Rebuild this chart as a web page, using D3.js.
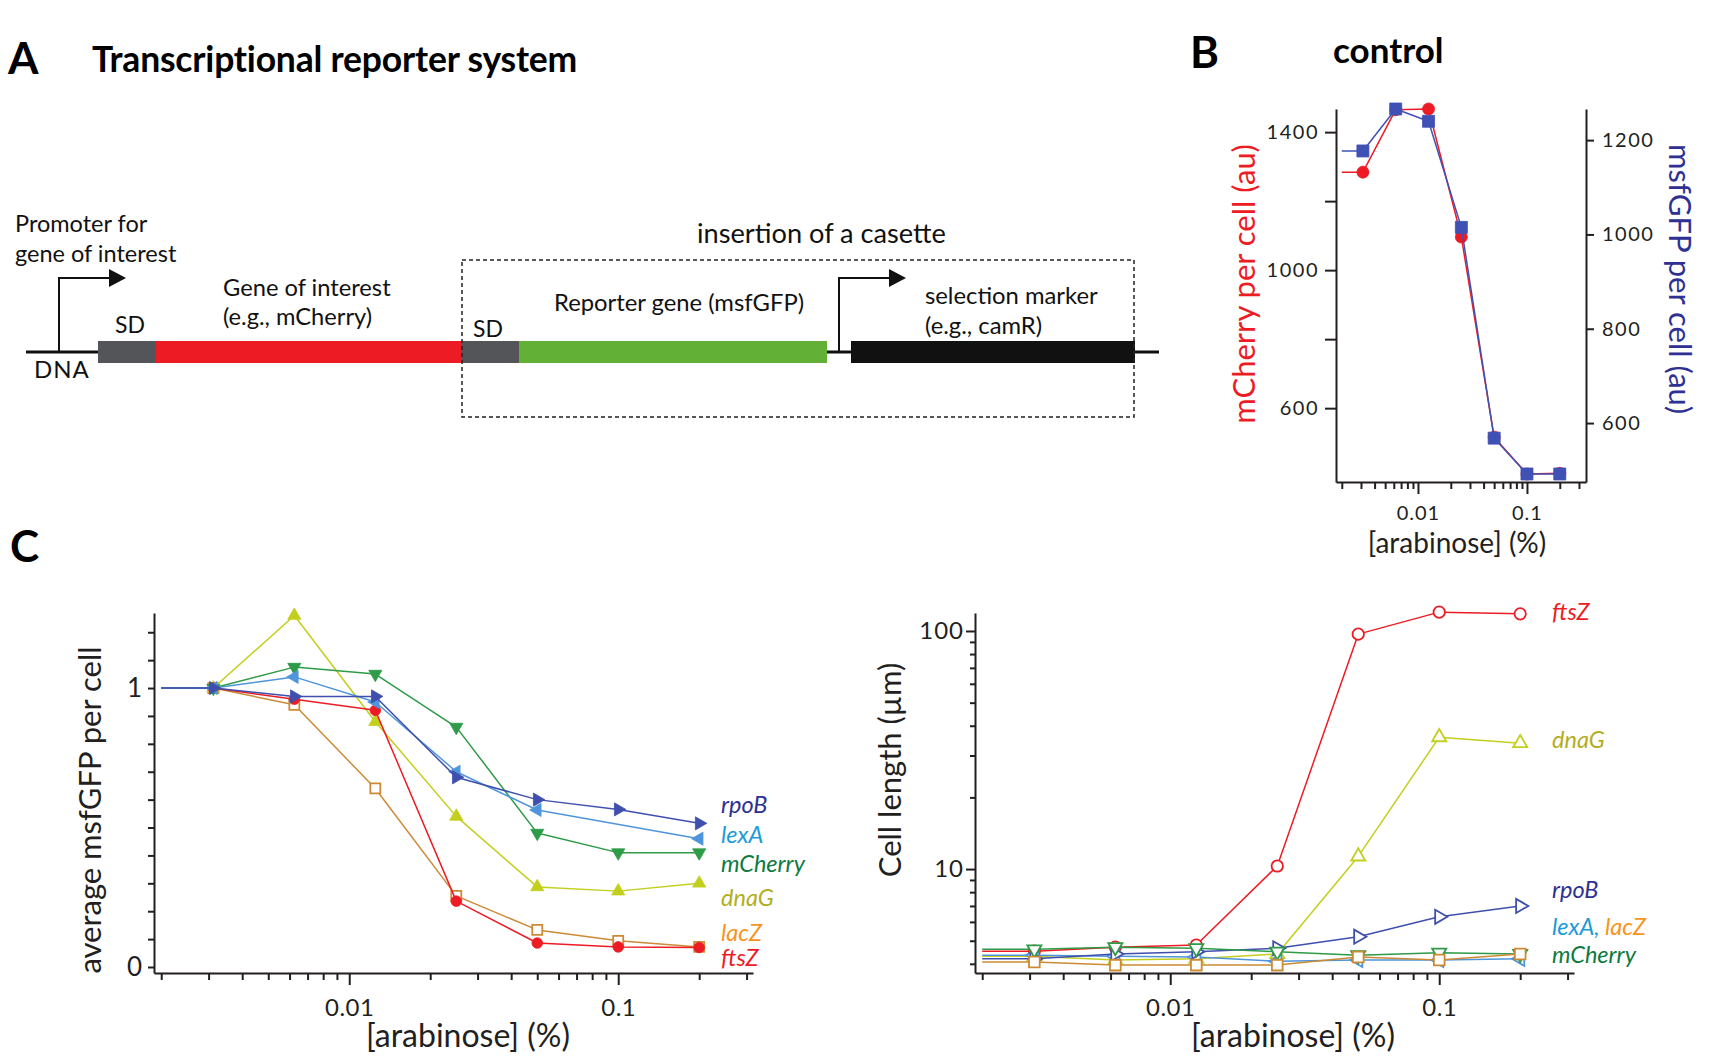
<!DOCTYPE html>
<html>
<head>
<meta charset="utf-8">
<script src="https://cdn.jsdelivr.net/npm/d3@7"></script>
<style>
  body { margin: 0; background: #fff; }
  text { font-family: Lato, "Open Sans", sans-serif; }
</style>
</head>
<body>
<svg id="fig" width="1718" height="1063"></svg>
<script>
// ---- data ----
// arabinose (%) ; 0 = no inducer, drawn at the left edge of the log axis
const conc = [0, 0.003125, 0.00625, 0.0125, 0.025, 0.05, 0.1, 0.2];
const zeroAt = 0.002;

// B, control strain (au)
const ctrlMCherry = [1284, 1284, 1465, 1467, 1096, 516, 409, 411];
const ctrlMsfGFP  = [1177, 1177, 1266, 1240, 1015, 568, 492, 492];

// C left: average msfGFP per cell, normalised to no arabinose
const gfpRpoB    = [1, 1, 0.97, 0.97, 0.68, 0.60, 0.565, 0.515];
const gfpLexA    = [1, 1, 1.04, 0.95, 0.70, 0.563, null, 0.46];
const gfpMCherry = [1, 1, 1.075, 1.05, 0.86, 0.48, 0.41, 0.41];
const gfpDnaG    = [1, 1, 1.26, 0.879, 0.54, 0.287, 0.272, 0.30];
const gfpLacZ    = [1, 1, 0.94, 0.64, 0.255, 0.133, 0.094, 0.072];
const gfpFtsZ    = [1, 1, 0.96, 0.92, 0.236, 0.086, 0.072, 0.07];

// C right: cell length (um)
const lenFtsZ    = [4.52, 4.52, 4.7, 4.8, 10.3, 97, 120, 118];
const lenDnaG    = [4.3, 4.3, 4.15, 4.2, 4.4, 11.3, 35.8, 33.8];
const lenRpoB    = [4.2, 4.2, 4.4, 4.5, 4.65, 5.2, 6.3, 7.0];
const lenMCherry = [4.6, 4.6, 4.7, 4.65, 4.5, 4.35, 4.45, 4.4];
const lenLexA    = [4.35, 4.35, 4.3, 4.27, 4.1, 4.15, 4.15, 4.2];
const lenLacZ    = [4.07, 4.07, 3.95, 3.95, 3.95, 4.27, 4.15, 4.4];

const xMajor = [0.01, 0.1];

const ink = "#231f20";
const svg = d3.select("#fig");
svg.append("rect").attr("width", 1718).attr("height", 1063).attr("fill", "#fff");

// colours / markers per gene
const look = {
  rpoB:    {line: "#3f4fad", label: "#2e3192", rot: 90},
  lexA:    {line: "#4f95dc", label: "#1d9bd7", rot: -90},
  mCherry: {line: "#2d9b47", label: "#0d7a3e", rot: 180},
  dnaG:    {line: "#c2cf1c", label: "#b3ae1f", rot: 0},
  lacZ:    {line: "#cd8a35", label: "#f7941d", sq: true},
  ftsZ:    {line: "#ed1c24", label: "#ed1c24", circ: true}
};

function markerPath(k, scale) {
  const l = look[k];
  if (l.circ) return d3.symbol(d3.symbolCircle, Math.PI * 5.3 * 5.3 * scale)();
  if (l.sq) return d3.symbol(d3.symbolSquare, 10 * 10 * scale)();
  return d3.symbol(d3.symbolTriangle, 75 * scale)();
}

function drawSeries(g, x, y, vals, color, o) {
  const pts = conc.map((c, i) => ({c: c === 0 ? zeroAt : c, v: vals[i], zero: c === 0}))
                  .filter(p => p.v != null);
  g.append("path").datum(pts)
    .attr("d", d3.line().x(p => x(p.c)).y(p => y(p.v)))
    .attr("fill", "none").attr("stroke", color).attr("stroke-width", 1.5)
    .attr("stroke-linejoin", "round");
  g.selectAll(null).data(pts.filter(p => !p.zero)).join("path")
    .attr("transform", p => `translate(${x(p.c)},${y(p.v)}) rotate(${o.rot || 0})`)
    .attr("d", o.d)
    .attr("fill", o.open ? "#fff" : color)
    .attr("stroke", color).attr("stroke-width", o.open ? 1.8 : 0.8);
}

function minorLogTicks(dom) {
  const t = [];
  for (let e = -3; e <= 2; e++)
    for (let m = 1; m <= 9; m++) {
      const v = +(m * Math.pow(10, e)).toPrecision(3);
      if (v >= dom[0] && v <= dom[1]) t.push(v);
    }
  return t;
}

function styleAxis(ax, size) {
  ax.attr("font-family", null).attr("font-size", size).attr("color", ink);
  ax.selectAll("path, line").attr("stroke-width", 2);
}

function logXAxis(x, y0, o) {
  const g = svg.append("g").attr("transform", `translate(0,${y0})`);
  const minor = minorLogTicks(x.domain()).filter(v => !xMajor.includes(v));
  g.call(d3.axisBottom(x).tickValues(minor).tickSize(o.minor).tickSizeOuter(0).tickFormat(""));
  const gm = g.append("g").call(d3.axisBottom(x).tickValues(xMajor).tickSize(o.major)
    .tickPadding(o.pad).tickFormat(d3.format("")));
  gm.select(".domain").remove();
  styleAxis(g, o.font);
  styleAxis(gm, o.font);
  g.selectAll("text").attr("letter-spacing", o.ls || 0);
  return g;
}

// ================= A: schematic =================
svg.append("text").attr("x", 8).attr("y", 74).attr("font-size", 44).attr("font-weight", 700).text("A");
svg.append("text").attr("x", 92).attr("y", 72).attr("font-size", 35.5).attr("font-weight", 700)
  .attr("letter-spacing", -0.2).text("Transcriptional reporter system");

const dnaY = 352, barH = 22;
const parts = [
  {x0: 98,  x1: 156, fill: "#545558"},
  {x0: 156, x1: 462, fill: "#ed1c24"},
  {x0: 462, x1: 519, fill: "#545558"},
  {x0: 519, x1: 827, fill: "#62b036"},
  {x0: 851, x1: 1135, fill: "#111111"}
];
const dia = svg.append("g");
dia.append("line").attr("x1", 26).attr("x2", 1159).attr("y1", dnaY).attr("y2", dnaY)
  .attr("stroke", "#111").attr("stroke-width", 3);
dia.selectAll("rect.part").data(parts).join("rect").attr("class", "part")
  .attr("x", d => d.x0).attr("width", d => d.x1 - d.x0)
  .attr("y", dnaY - barH / 2).attr("height", barH).attr("fill", d => d.fill);

// insertion box
dia.append("rect").attr("x", 462).attr("y", 260).attr("width", 1134 - 462).attr("height", 417 - 260)
  .attr("fill", "none").attr("stroke", "#222").attr("stroke-width", 1.5).attr("stroke-dasharray", "4,3");

// promoter arrows
[59, 839].forEach(px => {
  dia.append("path").attr("d", `M${px},${dnaY} V278 H${px + 52}`)
    .attr("fill", "none").attr("stroke", "#111").attr("stroke-width", 2);
  dia.append("path").attr("d", `M${px + 50},269 L${px + 67},278 L${px + 50},287 Z`).attr("fill", "#111");
});

const diaText = [
  ["Promoter for", 15, 232, 23.5, 0], ["gene of interest", 15, 262, 23.5, 0],
  ["DNA", 34, 378, 24, 1], ["SD", 115, 333, 23, 0], ["SD", 473, 337, 23, 0],
  ["Gene of interest", 223, 296, 23.7, 0], ["(e.g., mCherry)", 223, 325, 23.7, 0],
  ["insertion of a casette", 697, 243, 27.2, 0],
  ["Reporter gene (msfGFP)", 554, 311, 23.8, 0],
  ["selection marker", 925, 304, 23.8, 0], ["(e.g., camR)", 925, 334, 23.8, 0]
];
dia.selectAll("text").data(diaText).join("text")
  .attr("x", d => d[1]).attr("y", d => d[2]).attr("font-size", d => d[3])
  .attr("letter-spacing", d => d[4]).attr("fill", "#111").text(d => d[0]);

// ================= B: control =================
svg.append("text").attr("x", 1190).attr("y", 68).attr("font-size", 44).attr("font-weight", 700).text("B");
svg.append("text").attr("x", 1333).attr("y", 63).attr("font-size", 35).attr("font-weight", 700).text("control");

const xB = d3.scaleLog().domain([0.00177, 0.348]).range([1336, 1586]);
const yBL = d3.scaleLinear().domain([386, 1467]).range([482, 109]);
const yBR = d3.scaleLinear().domain([475, 1266]).range([482, 109]);

logXAxis(xB, 482, {minor: 7, major: 12, pad: 12, font: 20, ls: 1});
const bl = svg.append("g").attr("transform", "translate(1336,0)")
  .call(d3.axisLeft(yBL).tickValues([600, 800, 1000, 1200, 1400]).tickSize(11).tickSizeOuter(0).tickPadding(6)
    .tickFormat(d => (d === 800 || d === 1200) ? "" : d));
styleAxis(bl, 20);
bl.selectAll("text").attr("letter-spacing", 1.5);
const br = svg.append("g").attr("transform", "translate(1586,0)")
  .call(d3.axisRight(yBR).tickValues([600, 800, 1000, 1200]).tickSize(8).tickSizeOuter(0).tickPadding(8)
    .tickFormat(d3.format("")));
styleAxis(br, 20);
br.selectAll("text").attr("letter-spacing", 1.5);

const gB = svg.append("g");
drawSeries(gB, xB, yBL, ctrlMCherry, "#ed1c24", {d: d3.symbol(d3.symbolCircle, Math.PI * 36)()});
drawSeries(gB, xB, yBR, ctrlMsfGFP, "#3f51b5", {d: d3.symbol(d3.symbolSquare, 144)()});

svg.append("text").attr("transform", "translate(1255,284) rotate(-90)").attr("text-anchor", "middle")
  .attr("font-size", 31).attr("fill", "#ed1c24").text("mCherry per cell (au)");
svg.append("text").attr("transform", "translate(1669,279) rotate(90)").attr("text-anchor", "middle")
  .attr("font-size", 31).attr("fill", "#2e3192").text("msfGFP per cell (au)");
svg.append("text").attr("x", 1457).attr("y", 553).attr("text-anchor", "middle")
  .attr("font-size", 28).attr("fill", ink).text("[arabinose] (%)");

// ================= C =================
svg.append("text").attr("x", 10).attr("y", 562).attr("font-size", 44).attr("font-weight", 700).text("C");

// left: msfGFP
const xCL = d3.scaleLog().domain([0.00188, 0.317]).range([154, 753]);
const yCL = d3.scaleLinear().domain([-0.0215, 1.269]).range([973, 613]);
logXAxis(xCL, 973, {minor: 7, major: 12, pad: 14, font: 24, ls: 0.5});
const cl = svg.append("g").attr("transform", "translate(154,0)")
  .call(d3.axisLeft(yCL).tickValues(d3.range(0, 13).map(i => i / 10)).tickSize(6).tickSizeOuter(0)
    .tickPadding(6).tickFormat(d => (d === 0 || d === 1) ? d : ""));
styleAxis(cl, 26);

const gfpSeries = [
  ["lacZ", gfpLacZ], ["dnaG", gfpDnaG], ["ftsZ", gfpFtsZ],
  ["mCherry", gfpMCherry], ["lexA", gfpLexA], ["rpoB", gfpRpoB]
];
const gCL = svg.append("g");
gfpSeries.forEach(([k, v]) => drawSeries(gCL, xCL, yCL, v, look[k].line,
  {d: markerPath(k, 1), rot: look[k].rot, open: !!look[k].sq}));

const leftLabels = [["rpoB", 813], ["lexA", 843], ["mCherry", 872], ["dnaG", 906], ["lacZ", 941], ["ftsZ", 966]];
svg.selectAll("text.lbl").data(leftLabels).join("text").attr("class", "lbl")
  .attr("x", 721).attr("y", d => d[1]).attr("font-size", 23.5).attr("font-style", "italic")
  .attr("fill", d => look[d[0]].label).text(d => d[0]);

svg.append("text").attr("transform", "translate(101,810) rotate(-90)").attr("text-anchor", "middle")
  .attr("font-size", 31).attr("fill", ink).text("average msfGFP per cell");
svg.append("text").attr("x", 468).attr("y", 1047).attr("text-anchor", "middle")
  .attr("font-size", 32).attr("fill", ink).text("[arabinose] (%)");

// right: cell length
const xCR = d3.scaleLog().domain([0.00188, 0.317]).range([975, 1574]);
const yCR = d3.scaleLog().domain([3.66, 119]).range([973, 613]);
logXAxis(xCR, 973, {minor: 7, major: 12, pad: 14, font: 24, ls: 0.5});
const yMinorCR = minorLogTicks(yCR.domain()).filter(v => v !== 10 && v !== 100);
const cr = svg.append("g").attr("transform", "translate(975,0)");
cr.call(d3.axisLeft(yCR).tickValues(yMinorCR).tickSize(5).tickSizeOuter(0).tickFormat(""));
const crm = cr.append("g").call(d3.axisLeft(yCR).tickValues([10, 100]).tickSize(9).tickPadding(2)
  .tickFormat(d3.format("")));
crm.select(".domain").remove();
styleAxis(cr, 24); styleAxis(crm, 24);
crm.selectAll("text").attr("letter-spacing", 1);

const lenSeries = [
  ["ftsZ", lenFtsZ], ["dnaG", lenDnaG], ["lexA", lenLexA],
  ["rpoB", lenRpoB], ["mCherry", lenMCherry], ["lacZ", lenLacZ]
];
const gCR = svg.append("g");
lenSeries.forEach(([k, v]) => drawSeries(gCR, xCR, yCR, v, look[k].line,
  {d: markerPath(k, 1.15), rot: look[k].rot, open: true}));

const rightLabels = [["ftsZ", 620], ["dnaG", 748], ["rpoB", 898], ["mCherry", 963]];
svg.selectAll("text.rlbl").data(rightLabels).join("text").attr("class", "rlbl")
  .attr("x", 1552).attr("y", d => d[1]).attr("font-size", 23.5).attr("font-style", "italic")
  .attr("fill", d => look[d[0]].label).text(d => d[0]);
const la = svg.append("text").attr("x", 1552).attr("y", 935).attr("font-size", 23.5).attr("font-style", "italic");
la.append("tspan").attr("fill", look.lexA.label).text("lexA, ");
la.append("tspan").attr("fill", look.lacZ.label).text("lacZ");

svg.append("text").attr("transform", "translate(901,770) rotate(-90)").attr("text-anchor", "middle")
  .attr("font-size", 31).attr("fill", ink).text("Cell length (\u00b5m)");
svg.append("text").attr("x", 1293).attr("y", 1047).attr("text-anchor", "middle")
  .attr("font-size", 32).attr("fill", ink).text("[arabinose] (%)");
</script>
</body>
</html>
